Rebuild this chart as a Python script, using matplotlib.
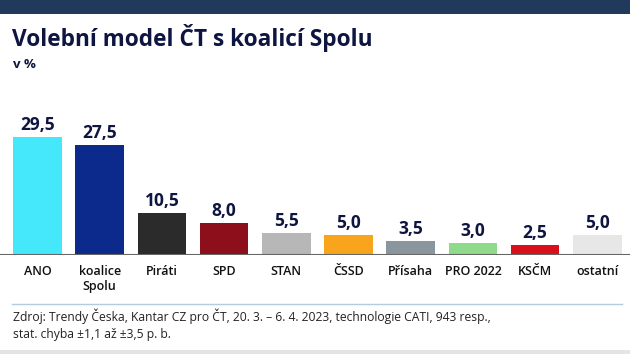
import matplotlib.pyplot as plt
from matplotlib.patches import Rectangle

# data
parties = ['ANO', 'koalice\nSpolu', 'Piráti', 'SPD', 'STAN', 'ČSSD',
           'Přísaha', 'PRO 2022', 'KSČM', 'ostatní']
values = [29.5, 27.5, 10.5, 8.0, 5.5, 5.0, 3.5, 3.0, 2.5, 5.0]
colors = ['#45E8FA', '#0C2A8C', '#2B2B2B', '#8C0F1B', '#B7B7B7', '#F8A41C',
          '#8A969D', '#8FDA8B', '#D8101A', '#E7E7E7']

title = 'Volební model ČT s koalicí Spolu'
subtitle = 'v %'
source = ('Zdroj: Trendy Česka, Kantar CZ pro ČT, 20. 3. – 6. 4. 2023, technologie CATI, 943 resp.,\n'
          'stat. chyba ±1,1 až ±3,5 p. b.')

W, H = 630, 354
plt.rcParams['font.family'] = ['Open Sans', 'DejaVu Sans']

fig = plt.figure(figsize=(W / 100, H / 100), dpi=100)
fig.patch.set_facecolor('white')

# top dark band
fig.patches.append(Rectangle((0, 1 - 14 / H), 1, 14 / H, transform=fig.transFigure,
                             facecolor='#213A5C', edgecolor='none'))
# bottom light strip
fig.patches.append(Rectangle((0, 0), 1, 4 / H, transform=fig.transFigure,
                             facecolor='#E4E4E4', edgecolor='none'))

fig.text(12 / W, 1 - 38 / H, title, fontsize=16.3, fontweight='bold', color='#0E1540',
         va='center', ha='left')
fig.text(13 / W, 1 - 64 / H, subtitle, fontsize=9.5, fontweight='bold', color='#0E1540',
         va='center', ha='left')

# chart axes: baseline at y=255 px
ax = fig.add_axes([0, (H - 255) / H, 1, 155 / H])
x = list(range(len(parties)))
bars = ax.bar(x, values, width=0.78, color=colors, edgecolor='none', zorder=2)
step = 62.2
ax.set_xlim(-37.5 / step, (W - 37.5) / step)
ax.set_ylim(0, 38.75)

for xi, v in zip(x, values):
    ax.annotate(f'{v:.1f}'.replace('.', ','), (xi, v), xytext=(0, 2.5),
                textcoords='offset points', ha='center', va='bottom',
                fontsize=12.5, fontweight='bold', color='#0E1540')

ax.axhline(0, color='#666666', lw=1.5, zorder=3)
ax.set_xticks(x)
ax.set_xticklabels(parties, fontsize=9, color='#111111', linespacing=1.25,
                   va='top', fontweight='semibold')
ax.tick_params(axis='x', length=0, pad=7)
ax.set_yticks([])
for s in ax.spines.values():
    s.set_visible(False)
ax.patch.set_alpha(0)

# separator line
fig.add_artist(plt.Line2D([12 / W, 622 / W], [1 - 304 / H, 1 - 304 / H],
                          transform=fig.transFigure, color='#B5CBE0', lw=1))
fig.text(13 / W, 1 - 325 / H, source, fontsize=8.7, color='#222222',
         va='center', ha='left', linespacing=1.4)

fig.savefig('out.png', dpi=100)
